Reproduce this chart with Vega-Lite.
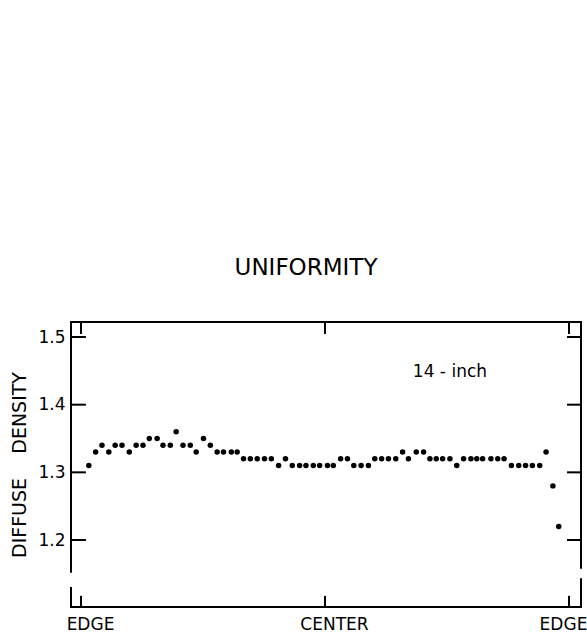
{
  "$schema": "https://vega.github.io/schema/vega-lite/v6.json",
  "width": 510,
  "height": 285,
  "autosize": {"type": "none"},
  "padding": {"left": 71, "top": 322, "right": 6, "bottom": 28},
  "background": "white",
  "config": {
    "font": "DejaVu Sans",
    "view": {"stroke": null},
    "axis": {"grid": false, "domain": false, "ticks": false, "labelColor": "black", "titleColor": "black", "titleFontWeight": "normal"}
  },
  "title": {
    "text": "UNIFORMITY",
    "fontSize": 23,
    "fontWeight": "normal",
    "color": "black",
    "anchor": "middle",
    "frame": "group",
    "dx": -20,
    "baseline": "alphabetic",
    "offset": 23
  },
  "datasets": {
    "points": [
      {"pos": 1.6, "density": 1.31}, {"pos": 3.0, "density": 1.33}, {"pos": 4.3, "density": 1.34},
      {"pos": 5.7, "density": 1.33}, {"pos": 7.0, "density": 1.34}, {"pos": 8.4, "density": 1.34},
      {"pos": 9.9, "density": 1.33}, {"pos": 11.3, "density": 1.34}, {"pos": 12.7, "density": 1.34},
      {"pos": 14.0, "density": 1.35}, {"pos": 15.6, "density": 1.35}, {"pos": 16.8, "density": 1.34},
      {"pos": 18.3, "density": 1.34}, {"pos": 19.5, "density": 1.36}, {"pos": 20.9, "density": 1.34},
      {"pos": 22.4, "density": 1.34}, {"pos": 23.6, "density": 1.33}, {"pos": 25.1, "density": 1.35},
      {"pos": 26.5, "density": 1.34}, {"pos": 27.9, "density": 1.33}, {"pos": 29.2, "density": 1.33},
      {"pos": 30.8, "density": 1.33}, {"pos": 32.0, "density": 1.33}, {"pos": 33.3, "density": 1.32},
      {"pos": 34.7, "density": 1.32}, {"pos": 36.1, "density": 1.32}, {"pos": 37.6, "density": 1.32},
      {"pos": 39.0, "density": 1.32}, {"pos": 40.5, "density": 1.31}, {"pos": 41.9, "density": 1.32},
      {"pos": 43.3, "density": 1.31}, {"pos": 44.8, "density": 1.31}, {"pos": 46.1, "density": 1.31},
      {"pos": 47.6, "density": 1.31}, {"pos": 48.9, "density": 1.31}, {"pos": 50.5, "density": 1.31},
      {"pos": 51.7, "density": 1.31}, {"pos": 53.2, "density": 1.32}, {"pos": 54.6, "density": 1.32},
      {"pos": 55.9, "density": 1.31}, {"pos": 57.4, "density": 1.31}, {"pos": 58.9, "density": 1.31},
      {"pos": 60.2, "density": 1.32}, {"pos": 61.6, "density": 1.32}, {"pos": 63.0, "density": 1.32},
      {"pos": 64.5, "density": 1.32}, {"pos": 65.9, "density": 1.33}, {"pos": 67.1, "density": 1.32},
      {"pos": 68.7, "density": 1.33}, {"pos": 70.2, "density": 1.33}, {"pos": 71.5, "density": 1.32},
      {"pos": 72.8, "density": 1.32}, {"pos": 74.1, "density": 1.32}, {"pos": 75.6, "density": 1.32},
      {"pos": 77.0, "density": 1.31}, {"pos": 78.4, "density": 1.32}, {"pos": 79.9, "density": 1.32},
      {"pos": 81.1, "density": 1.32}, {"pos": 82.3, "density": 1.32}, {"pos": 84.0, "density": 1.32},
      {"pos": 85.4, "density": 1.32}, {"pos": 86.7, "density": 1.32}, {"pos": 88.2, "density": 1.31},
      {"pos": 89.7, "density": 1.31}, {"pos": 91.1, "density": 1.31}, {"pos": 92.5, "density": 1.31},
      {"pos": 94.0, "density": 1.31}, {"pos": 95.3, "density": 1.33}, {"pos": 96.7, "density": 1.28},
      {"pos": 97.9, "density": 1.22}
    ],
    "frame": [
      {"x": -2.05, "x2": 102.46, "y": 1.5222, "y2": 1.5222},
      {"x": -2.05, "x2": 102.46, "y": 1.101, "y2": 1.101},
      {"x": -2.05, "x2": -2.05, "y": 1.153, "y2": 1.5222},
      {"x": -2.05, "x2": -2.05, "y": 1.101, "y2": 1.129},
      {"x": 102.46, "x2": 102.46, "y": 1.159, "y2": 1.5222},
      {"x": 102.46, "x2": 102.46, "y": 1.101, "y2": 1.142},
      {"x": -2.05, "x2": 0.8, "y": 1.2, "y2": 1.2},
      {"x": -2.05, "x2": 0.8, "y": 1.3, "y2": 1.3},
      {"x": -2.05, "x2": 0.8, "y": 1.4, "y2": 1.4},
      {"x": -2.05, "x2": 0.8, "y": 1.5, "y2": 1.5},
      {"x": 99.8, "x2": 102.46, "y": 1.2, "y2": 1.2},
      {"x": 99.8, "x2": 102.46, "y": 1.3, "y2": 1.3},
      {"x": 99.8, "x2": 102.46, "y": 1.4, "y2": 1.4},
      {"x": 99.8, "x2": 102.46, "y": 1.5, "y2": 1.5},
      {"x": 0, "x2": 0, "y": 1.101, "y2": 1.116},
      {"x": 50, "x2": 50, "y": 1.101, "y2": 1.116},
      {"x": 100, "x2": 100, "y": 1.101, "y2": 1.116},
      {"x": 0, "x2": 0, "y": 1.5222, "y2": 1.506},
      {"x": 50, "x2": 50, "y": 1.5222, "y2": 1.506},
      {"x": 100, "x2": 100, "y": 1.5222, "y2": 1.506}
    ],
    "notes": [
      {"pos": 75.6, "density": 1.441, "label": "14 - inch"}
    ]
  },
  "layer": [
    {
      "data": {"name": "frame"},
      "mark": {"type": "rule", "color": "black", "strokeWidth": 2, "strokeCap": "square"},
      "encoding": {
        "x": {"field": "x", "type": "quantitative", "scale": {"domain": [-2.05, 102.46], "nice": false, "zero": false},
              "axis": {"values": [0, 50, 100], "labelExpr": "datum.value == 50 ? 'CENTER' : 'EDGE'", "labelFontSize": 17, "labelPadding": 9, "labelOffset": {"condition": {"test": "datum.value == 100", "value": -6}, "value": 9}, "labelBaseline": "top", "labelBound": false, "labelFlush": false, "labelOverlap": false, "title": null}},
        "x2": {"field": "x2"},
        "y": {"field": "y", "type": "quantitative", "scale": {"domain": [1.101, 1.5222], "nice": false, "zero": false},
              "axis": {"values": [1.2, 1.3, 1.4, 1.5], "format": ".1f", "labelFontSize": 17, "labelPadding": 6, "title": "DIFFUSE\u00a0\u00a0\u00a0\u00a0DENSITY", "titleFontSize": 19, "titlePadding": 8}},
        "y2": {"field": "y2"}
      }
    },
    {
      "data": {"name": "points"},
      "mark": {"type": "circle", "color": "black", "opacity": 1, "size": 30},
      "encoding": {
        "x": {"field": "pos", "type": "quantitative", "scale": {"domain": [-2.05, 102.46], "nice": false, "zero": false}},
        "y": {"field": "density", "type": "quantitative", "scale": {"domain": [1.101, 1.5222], "nice": false, "zero": false}}
      }
    },
    {
      "data": {"name": "notes"},
      "mark": {"type": "text", "color": "black", "fontSize": 17, "align": "center", "baseline": "alphabetic"},
      "encoding": {
        "x": {"field": "pos", "type": "quantitative", "scale": {"domain": [-2.05, 102.46], "nice": false, "zero": false}},
        "y": {"field": "density", "type": "quantitative", "scale": {"domain": [1.101, 1.5222], "nice": false, "zero": false}},
        "text": {"field": "label"}
      }
    }
  ]
}
